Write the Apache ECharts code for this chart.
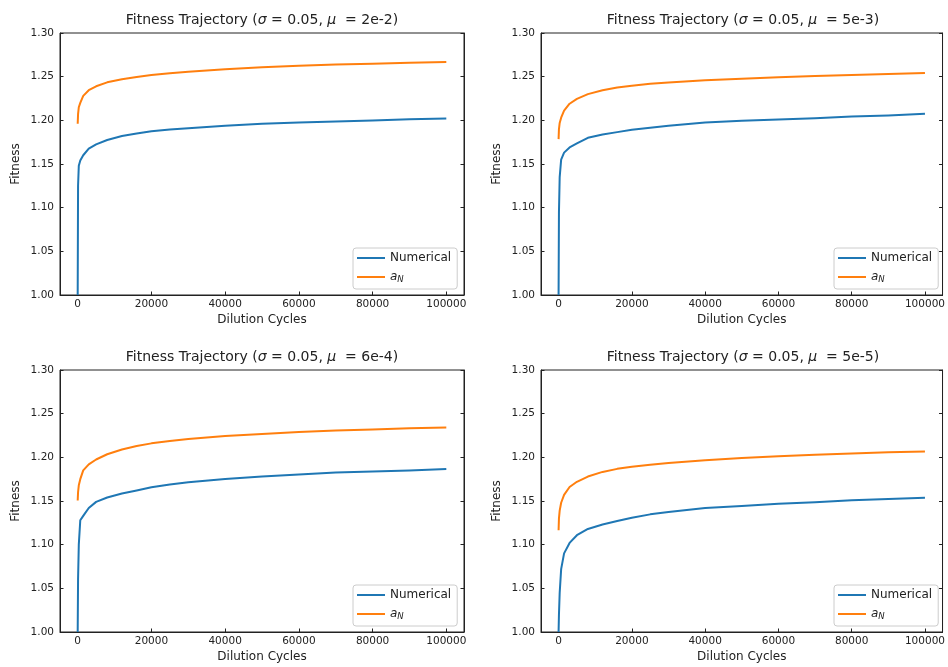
<!DOCTYPE html>
<html>
<head>
<meta charset="utf-8">
<title>Fitness Trajectory</title>
<script src="https://cdn.jsdelivr.net/npm/echarts@6/dist/echarts.min.js"></script>
<style>
  html, body { margin: 0; padding: 0; background: #fff; }
  #chart { width: 948px; height: 667px; }
</style>
</head>
<body>
<div id="chart"></div>
<script>
// Dilution cycles at which both curves are sampled
const cycles = [0, 100, 300, 700, 1500, 3000, 5000, 8000, 12000, 16000, 20000,
                25000, 30000, 40000, 50000, 60000, 70000, 80000, 90000, 100000];

// Panel parameters (mutation rate label)
const muLabels = ['2e-2', '5e-3', '6e-4', '5e-5'];

// Numerical fitness trajectories, one per panel
const numerical2e2 = [1.000, 1.125, 1.148, 1.154, 1.160, 1.1675, 1.1725, 1.1775, 1.182, 1.185, 1.1875,
                      1.1895, 1.191, 1.1937, 1.196, 1.1975, 1.1987, 1.1998, 1.2012, 1.202];
const numerical5e3 = [1.000, 1.095, 1.135, 1.155, 1.163, 1.169, 1.1735, 1.180, 1.1838, 1.1865, 1.1892,
                      1.1915, 1.1937, 1.1975, 1.1994, 1.201, 1.2025, 1.2044, 1.2055, 1.2074];
const numerical6e4 = [1.000, 1.060, 1.100, 1.128, 1.133, 1.142, 1.149, 1.154, 1.1585, 1.162, 1.1658,
                      1.169, 1.1715, 1.1753, 1.178, 1.1803, 1.1825, 1.1837, 1.1848, 1.1867];
const numerical5e5 = [1.000, 1.020, 1.045, 1.072, 1.090, 1.102, 1.1108, 1.118, 1.123, 1.127, 1.1309,
                      1.1347, 1.1374, 1.1419, 1.1442, 1.1468, 1.1487, 1.151, 1.1522, 1.1537];

// Analytical a_N curves, one per panel
const aN2e2 = [1.196, 1.207, 1.215, 1.220, 1.228, 1.2345, 1.239, 1.2435, 1.247, 1.2496, 1.2518,
               1.2540, 1.2557, 1.2585, 1.2607, 1.2625, 1.2638, 1.2649, 1.2659, 1.2667];
const aN5e3 = [1.1785, 1.190, 1.197, 1.203, 1.211, 1.219, 1.2245, 1.230, 1.2345, 1.2375, 1.2397,
               1.2418, 1.2434, 1.2458, 1.2477, 1.2493, 1.2507, 1.2519, 1.2531, 1.2542];
const aN6e4 = [1.1506, 1.160, 1.168, 1.175, 1.185, 1.192, 1.1975, 1.2035, 1.2090, 1.2130, 1.2160,
               1.2188, 1.2210, 1.2243, 1.2268, 1.2289, 1.2306, 1.2320, 1.2332, 1.2342];
const aN5e5 = [1.1165, 1.130, 1.139, 1.148, 1.157, 1.166, 1.172, 1.178, 1.1833, 1.1868, 1.1893,
               1.1915, 1.1935, 1.1967, 1.1991, 1.2011, 1.2029, 1.2044, 1.2057, 1.2068];

// Axis ticks
const xTicks = [0, 20000, 40000, 60000, 80000, 100000];

const numericalSets = [numerical2e2, numerical5e3, numerical6e4, numerical5e5];
const aNSets = [aN2e2, aN5e3, aN6e4, aN5e5];

const FONT = 'DejaVu Sans';
const INK = '#222';
const BLUE = '#1f77b4';
const ORANGE = '#ff7f0e';

const panels = [
  { left: 60,  top: 33,  width: 404, height: 262 },
  { left: 541, top: 33,  width: 404, height: 262 },
  { left: 60,  top: 370, width: 404, height: 262 },
  { left: 541, top: 370, width: 404, height: 262 }
];

const toPairs = (ys) => cycles.map((x, i) => [x, ys[i]]);

const grid = [], xAxis = [], yAxis = [], series = [], title = [], legend = [];

panels.forEach((p, k) => {
  grid.push({
    left: p.left, top: p.top, width: p.width, height: p.height,
    show: true, borderColor: INK, borderWidth: 1, backgroundColor: 'transparent'
  });

  xAxis.push({
    type: 'value', gridIndex: k, min: -4800, max: 104800,
    name: 'Dilution Cycles', nameLocation: 'middle', nameGap: 19,
    nameTextStyle: { fontFamily: FONT, fontSize: 12, color: INK },
    axisLine: { show: true, onZero: false, lineStyle: { color: INK, width: 1 } },
    axisTick: { show: true, inside: true, length: 3.5, customValues: xTicks, lineStyle: { color: INK } },
    axisLabel: { show: true, customValues: xTicks, margin: 4, fontFamily: FONT, fontSize: 10.5, color: INK,
                 formatter: (v) => String(v) },
    splitLine: { show: false }
  });

  yAxis.push({
    type: 'value', gridIndex: k, min: 1.0, max: 1.3, interval: 0.05, position: 'left',
    name: 'Fitness', nameLocation: 'middle', nameGap: 38, nameRotate: 90,
    nameTextStyle: { fontFamily: FONT, fontSize: 12, color: INK },
    axisLine: { show: true, onZero: false, lineStyle: { color: INK, width: 1 } },
    axisTick: { show: true, inside: true, length: 3.5, lineStyle: { color: INK } },
    axisLabel: { show: true, margin: 6, fontFamily: FONT, fontSize: 10.5, color: INK,
                 formatter: (v) => v.toFixed(2) },
    splitLine: { show: false }
  });
  // mirrored ticks on the right spine
  yAxis.push({
    type: 'value', gridIndex: k, min: 1.0, max: 1.3, interval: 0.05, position: 'right',
    axisLine: { show: true, onZero: false, lineStyle: { color: INK, width: 1 } },
    axisTick: { show: true, inside: true, length: 3.5, lineStyle: { color: INK } },
    axisLabel: { show: false },
    splitLine: { show: false }
  });

  series.push({
    name: 'Numerical', type: 'line', xAxisIndex: k, yAxisIndex: 2 * k,
    data: toPairs(numericalSets[k]), showSymbol: false, symbol: 'none',
    smooth: false, clip: true,
    lineStyle: { color: BLUE, width: 2, join: 'round', cap: 'butt' }, itemStyle: { color: BLUE }, z: 3
  });
  series.push({
    name: 'a_N', type: 'line', xAxisIndex: k, yAxisIndex: 2 * k,
    data: toPairs(aNSets[k]), showSymbol: false, symbol: 'none',
    smooth: false, clip: true,
    lineStyle: { color: ORANGE, width: 2, join: 'round', cap: 'butt' }, itemStyle: { color: ORANGE }, z: 3
  });

  title.push({
    text: 'Fitness Trajectory ({i|σ} = 0.05, {i|μ}  = ' + muLabels[k] + ')',
    left: p.left + p.width / 2, top: p.top - 20, textAlign: 'center', padding: 0,
    textStyle: {
      fontFamily: FONT, fontSize: 14, fontWeight: 'normal', color: INK,
      rich: { i: { fontFamily: FONT, fontSize: 14, fontStyle: 'italic', color: INK } }
    }
  });

  legend.push({
    data: ['Numerical', 'a_N'],
    orient: 'vertical',
    left: p.left + 293, top: p.top + 215,
    padding: [3, 6, 5, 4],
    itemGap: 5, itemWidth: 28, itemHeight: 2, icon: 'rect',
    backgroundColor: 'rgba(255,255,255,0.8)', borderColor: '#cccccc', borderWidth: 1, borderRadius: 3,
    selectedMode: false,
    formatter: (name) => name === 'a_N' ? '{a|a}{n|N}' : name,
    textStyle: {
      fontFamily: FONT, fontSize: 12, color: INK, lineHeight: 14,
      rich: {
        a: { fontFamily: FONT, fontSize: 12, fontStyle: 'italic', color: INK, lineHeight: 14 },
        n: { fontFamily: FONT, fontSize: 8.5, fontStyle: 'italic', color: INK, lineHeight: 8, verticalAlign: 'bottom' }
      }
    }
  });
});

const chart = echarts.init(document.getElementById('chart'), null, { renderer: 'canvas' });
chart.setOption({
  animation: false,
  backgroundColor: '#fff',
  textStyle: { fontFamily: FONT },
  title, legend, grid, xAxis, yAxis, series
});
</script>
</body>
</html>
